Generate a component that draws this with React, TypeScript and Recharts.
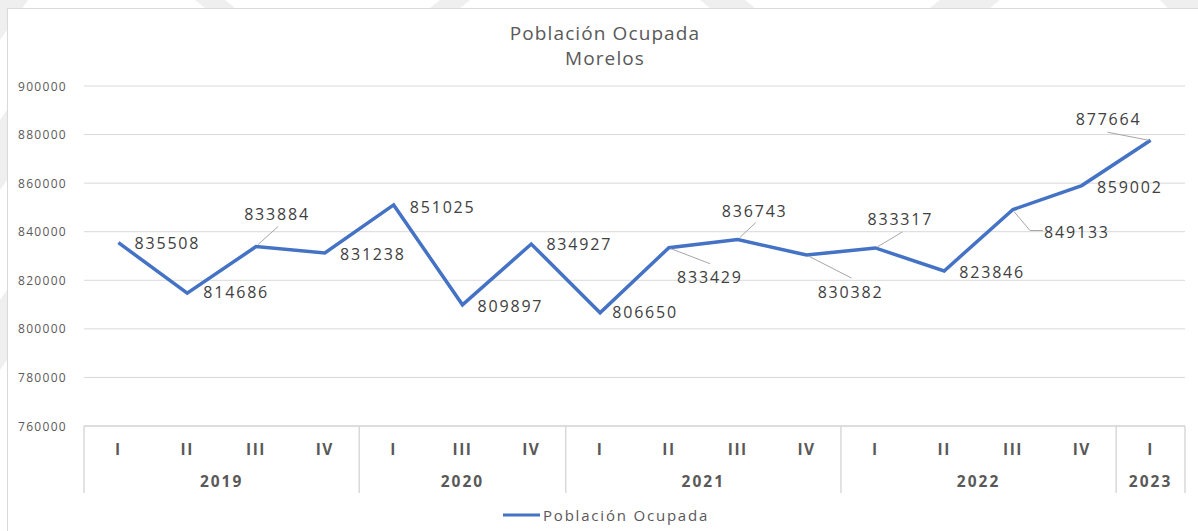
import React from 'react';
import { LineChart, Line, XAxis, YAxis, CartesianGrid, LabelList, Legend } from 'recharts';

const QUARTERS = ['I', 'II', 'III', 'IV', 'I', 'III', 'IV', 'I', 'II', 'III', 'IV', 'I', 'II', 'III', 'IV', 'I'];
const YEARS = ['2019', '2019', '2019', '2019', '2020', '2020', '2020', '2021', '2021', '2021', '2021', '2022', '2022', '2022', '2022', '2023'];
const VALUES = [835508, 814686, 833884, 831238, 851025, 809897, 834927, 806650, 833429, 836743, 830382, 833317, 823846, 849133, 859002, 877664];
const Y_TICKS = [760000, 780000, 800000, 820000, 840000, 860000, 880000, 900000];
const SERIES_NAME = 'Población Ocupada';
const TITLE_LINES = ['Población Ocupada', 'Morelos'];

const data = VALUES.map((v, i) => ({ key: `${YEARS[i]}-${QUARTERS[i]}-${i}`, q: QUARTERS[i], year: YEARS[i], value: v }));

// layout
const W = 1198;
const H = 531;
const PLOT_LEFT = 84;
const PLOT_RIGHT = 1185;
const PLOT_TOP = 86;
const PLOT_BOTTOM = 426;
const BAND = (PLOT_RIGHT - PLOT_LEFT) / VALUES.length;
const FONT = '"Open Sans", "DejaVu Sans", sans-serif';
const BLUE = '#4472C4';
const GRID = '#d9d9d9';
const TXT = '#595959';

// label placement relative to the point: text centre offset + optional leader line
const LABEL_LAYOUT: { dx: number; dy: number; leader?: number[][] }[] = [
  { dx: 49, dy: 1 },
  { dx: 49, dy: -1 },
  { dx: 21, dy: -32, leader: [[2, -2], [22, -20]] },
  { dx: 48, dy: 1 },
  { dx: 49, dy: 2 },
  { dx: 48, dy: 1 },
  { dx: 48, dy: 0 },
  { dx: 45, dy: 0 },
  { dx: 41, dy: 30, leader: [[2, 1], [41, 16]] },
  { dx: 17, dy: -28, leader: [[2, -2], [18, -17]] },
  { dx: 44, dy: 37, leader: [[2, 1], [45, 23]] },
  { dx: 25, dy: -29, leader: [[2, -1], [27, -16]] },
  { dx: 48, dy: 1 },
  { dx: 64, dy: 23, leader: [[1, 2], [17, 21], [30, 21]] },
  { dx: 48, dy: 2 },
  { dx: -42, dy: -21, leader: [[-2, 0], [-43, -8]] },
];

const DataLabel = (props: any) => {
  const { x, y, value, index } = props;
  const l = LABEL_LAYOUT[index] || { dx: 48, dy: 0 };
  return (
    <g>
      {l.leader && (
        <polyline
          points={l.leader.map((p) => `${x + p[0]},${y + p[1]}`).join(' ')}
          fill="none"
          stroke="#a6a6a6"
          strokeWidth={1}
        />
      )}
      <text
        x={x + l.dx}
        y={y + l.dy + 5.7}
        textAnchor="middle"
        fontFamily={FONT}
        fontSize={16}
        letterSpacing={1.8}
        fill="#404040"
      >
        {value}
      </text>
    </g>
  );
};

const YTick = (props: any) => {
  const { y, payload } = props;
  return (
    <text x={18} y={y + 4.5} fontFamily={FONT} fontSize={12} letterSpacing={1.3} fill={TXT}>
      {payload.value}
    </text>
  );
};

const XTick = (props: any) => {
  const { x, y, payload } = props;
  const i = payload.index;
  const isStart = i === 0 || YEARS[i] !== YEARS[i - 1];
  const isLast = i === VALUES.length - 1;
  let n = 0;
  if (isStart) {
    let j = i;
    while (j < YEARS.length && YEARS[j] === YEARS[i]) {
      n++;
      j++;
    }
  }
  const left = x - BAND / 2;
  return (
    <g>
      <text x={x} y={y + 29} textAnchor="middle" fontFamily={FONT} fontWeight="bold" fontSize={15.5} letterSpacing={1.5} fill={TXT}>
        {QUARTERS[i]}
      </text>
      {isStart && <line x1={left} x2={left} y1={y} y2={y + 67} stroke={GRID} strokeWidth={1.5} />}
      {isStart && (
        <text x={left + (n * BAND) / 2} y={y + 60.5} textAnchor="middle" fontFamily={FONT} fontWeight="bold" fontSize={15.5} letterSpacing={2} fill={TXT}>
          {YEARS[i]}
        </text>
      )}
      {isLast && <line x1={x + BAND / 2} x2={x + BAND / 2} y1={y} y2={y + 67} stroke={GRID} strokeWidth={1.5} />}
    </g>
  );
};

const LegendContent = () => (
  <svg width={W} height={26} style={{ display: 'block' }}>
    <line x1={503} x2={540} y1={12} y2={12} stroke={BLUE} strokeWidth={3} />
    <text x={543} y={17.5} fontFamily={FONT} fontSize={15} letterSpacing={1.8} fill={TXT}>
      {SERIES_NAME}
    </text>
  </svg>
);

export default function App() {
  return (
    <div style={{ position: 'absolute', left: 0, top: 0, width: W, height: H, background: '#fff', overflow: 'hidden' }}>
      <svg width={W} height={H} style={{ position: 'absolute', left: 0, top: 0 }}>
        <g fill="#efefef">
          <polygon points="0,0 28,0 0,40" />
          <polygon points="195,0 225,0 300,60 270,60" />
          <polygon points="440,0 470,0 395,60 365,60" />
          <polygon points="700,0 745,0 820,60 775,60" />
          <polygon points="940,0 1000,0 925,60 865,60" />
          <polygon points="1160,0 1198,0 1198,40" />
          <polygon points="0,120 7,110 7,180 0,190" />
          <polygon points="0,300 7,290 7,360 0,370" />
        </g>
        <rect x={7} y={8} width={W - 7} height={H - 8} fill="#fff" />
        <line x1={7} x2={W} y1={8.5} y2={8.5} stroke={GRID} strokeWidth={1} />
        <line x1={7.5} x2={7.5} y1={8} y2={H} stroke={GRID} strokeWidth={1} />
      </svg>
      <div style={{ position: 'absolute', left: 0, top: 0 }}>
        <LineChart
          width={W}
          height={H}
          data={data}
          margin={{ top: PLOT_TOP, right: W - PLOT_RIGHT, bottom: 0, left: 0 }}
        >
          <CartesianGrid horizontal vertical={false} stroke={GRID} strokeWidth={1} />
          <YAxis
            domain={[760000, 900000]}
            ticks={Y_TICKS}
            width={PLOT_LEFT}
            axisLine={false}
            tickLine={false}
            tick={<YTick />}
            interval={0}
          />
          <XAxis
            dataKey="key"
            type="category"
            height={H - PLOT_BOTTOM}
            padding={{ left: BAND / 2, right: BAND / 2 }}
            axisLine={{ stroke: GRID, strokeWidth: 1.5 }}
            tickLine={false}
            tickSize={0}
            tickMargin={0}
            interval={0}
            tick={<XTick />}
          />
          <Legend
            layout="horizontal"
            verticalAlign="middle"
            align="center"
            content={<LegendContent />}
            wrapperStyle={{ position: 'absolute', left: 0, top: 503, width: W, height: 26 }}
          />
          <Line
            type="linear"
            dataKey="value"
            name={SERIES_NAME}
            stroke={BLUE}
            strokeWidth={3.5}
            dot={false}
            activeDot={false}
            isAnimationActive={false}
          >
            <LabelList dataKey="value" content={<DataLabel />} />
          </Line>
        </LineChart>
      </div>
      <svg width={W} height={80} style={{ position: 'absolute', left: 0, top: 0, pointerEvents: 'none' }}>
        <text x={605} y={40} textAnchor="middle" fontFamily={FONT} fontSize={19} letterSpacing={1.1} fill={TXT}>
          {TITLE_LINES[0]}
        </text>
        <text x={605} y={65} textAnchor="middle" fontFamily={FONT} fontSize={19} letterSpacing={1.1} fill={TXT}>
          {TITLE_LINES[1]}
        </text>
      </svg>
    </div>
  );
}
